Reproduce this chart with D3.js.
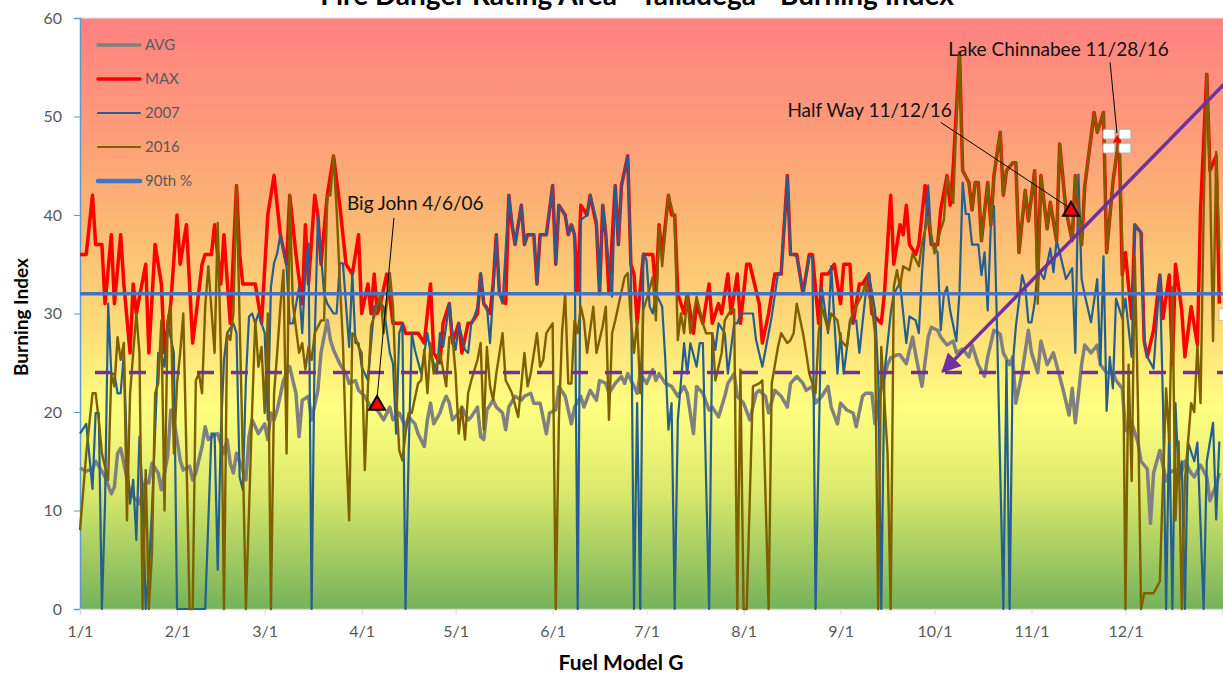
<!DOCTYPE html>
<html>
<head>
<meta charset="utf-8">
<script src="https://cdn.jsdelivr.net/npm/d3@7"></script>
<style>
  body { margin: 0; background: #fff; }
  svg { display: block; }
</style>
</head>
<body>
<svg id="chart"></svg>
<script>
// day of year (0 = Jan 1) and Burning Index value
var avgData = [[0,14.3],[2,14],[4,14.2],[5,15],[7,14],[8,13.4],[10,11.7],[11,12.4],[12,15.8],[13,16.3],[14,14.8],[16,11.7],[18,11.1],[19,10.7],[21,13.1],[22,12.8],[23,14.8],[25,13.8],[26,12.1],[28,15.5],[29,20.2],[30,19.2],[31,17.2],[32,15.1],[33,14.1],[35,14.5],[36,13.1],[37,13.8],[39,16.5],[40,18.5],[41,17.2],[43,17.7],[44,17.8],[46,15.8],[47,17.2],[48,14.8],[49,13.8],[50,15.8],[52,14.1],[53,13.1],[54,17.5],[55,19.2],[56,18.5],[57,17.8],[59,18.8],[60,17.2],[61,19.9],[62,19.2],[63,20.2],[65,23.2],[67,24.6],[68,23.2],[69,21.9],[70,17.5],[71,21.2],[73,21.6],[74,19.2],[76,22.2],[77,26],[79,29.3],[80,27.3],[81,26.3],[83,24.9],[85,23.9],[86,22.9],[88,23.2],[89,22.2],[91,21.6],[93,20.4],
  [95,20.2],[97,19.2],[99,20.5],[100,19.2],[102,19.9],[104,18.5],[105,19.5],[107,18.8],[108,17.8],[110,16.5],[111,19.2],[112,20.9],[113,18.8],[115,19.9],[116,20.9],[117,21.6],[118,20.9],[119,19.2],[121,19.9],[122,20.5],[124,19.2],[125,19.5],[127,20.5],[128,17.5],[129,17.2],[130,20.2],[132,21.2],[133,20.5],[135,19.9],[136,18.2],[137,20.5],[139,21.6],[141,21.2],[142,21.6],[144,21.9],[145,20.9],[147,20.9],[149,17.8],[150,19.9],[152,20.2],[153,22.6],[155,21.6],[157,18.8],[158,20.5],[160,21.6],[161,20.5],[163,22.2],[165,21.2],[166,23.2],[168,22.9],[169,21.9],[171,22.9],[173,23.6],[174,22.9],[175,23.9],[177,22.6],[178,21.9],[179,23.9],[181,22.9],[183,24.3],[184,23.2],[185,23.9],[187,22.9],[189,22.6],[191,21.6],[193,22.6],[194,21.9],
  [196,17.8],[197,22.6],[199,21.9],[201,20.2],[202,20.5],[204,19.5],[206,21.6],[207,22.9],[209,23.9],[210,21.6],[212,20.9],[214,19.2],[216,21.9],[217,22.2],[219,21.6],[220,19.9],[222,22.2],[224,21.6],[226,20.5],[227,22.9],[229,23.6],[231,22.9],[232,22.2],[234,22.6],[235,20.9],[237,21.6],[239,22.6],[240,20.5],[242,18.8],[243,20.9],[245,20.2],[247,19.9],[248,18.5],[250,21.6],[251,21.9],[253,21.9],[254,18.8],[256,22.5],[258,24.8],[259,25.5],[261,25.8],[262,25.8],[264,24.9],[266,27.6],[267,25.8],[269,22.6],[271,27.6],[272,28.6],[274,28.3],
  [275,27.6],[277,26.8],[279,27.2],[280,26],[282,26.4],[284,25.6],[285,26.8],[287,24.8],[289,23.6],[290,25.6],[292,28.3],[294,27.9],[295,26],[297,24.8],[298,25.6],[299,20.9],[301,24],[303,28.3],[304,26],[306,24],[307,27.2],[309,24.8],[311,26],[312,24.8],[314,22.4],[316,19.7],[317,22.4],[318,18.9],[320,24.8],[321,26.8],[323,26],[325,26.8],[326,24.8],[328,24],[330,24],[331,23.2],[333,22.4],[334,18.1],[336,18.9],[338,16.9],[339,15],[341,14.2],[342,8.7],[343,13.8],[345,16.1],[347,13],[348,13.8],[350,14.2],[351,13],[353,15],[355,13.8],[356,13.4],[358,14.6],[360,13.4],[361,11],[363,12.6],[364,13.8]];

var maxData = [[0,36],[2,36],[4,42],[5,37],[7,37],[8,31],[10,38],[11,31],[13,38],[14,33],[16,26],[17,33],[18,30],[21,35],[22,26],[24,37],[26,33],[27,26],[29,31],[31,40],[32,35],[34,39],[36,27],[39,35],[40,36],[42,36],[43,39],[45,33],[46,38],[48,29],[50,43],[51,36],[52,33],[54,33],[56,33],[58,29],[60,40],[62,44],[64,38],[66,35],[67,42],[69,36],[71,31],[72,39],[73,33],[75,42],[76,40],[77,35],[79,42],[81,46],[83,41],[85,35],[87,34],[89,38],[90,30],[92,33],[93,30],[94,34],[95,30],[96,31],
  [98,34],[100,29],[103,29],[104,28],[106,28],[108,28],[110,27],[112,33],[113,26],[115,25],[116,29],[118,31],[119,27],[121,29],[122,26],[124,29],[125,29],[127,30],[128,34],[129,31],[131,30],[132,33],[133,38],[134,32],[136,31],[137,42],[138,39],[139,37],[141,41],[142,37],[143,38],[145,38],[146,33],[147,38],[149,38],[151,43],[152,35],[153,41],[155,40],[156,38],[157,39],[158,38],[159,32],[160,41],[162,40],[163,42],[165,39],[166,32],[167,41],[168,38],[169,32],[171,43],[172,37],[173,43],[175,46],[176,35],[177,34],[178,29],[180,36],[181,36],[183,36],[184,32],[185,39],[186,36],[188,42],[189,40],[190,40],
  [191,32],[193,30],[194,32],[196,28],[197,31],[199,29],[201,33],[202,29],[204,31],[205,30],[207,34],[208,30],[210,34],[211,29],[213,35],[214,35],[217,31],[218,27],[220,30],[222,34],[224,34],[226,44],[227,36],[229,36],[231,32],[233,36],[234,36],[236,29],[237,34],[239,34],[241,35],[243,31],[244,35],[246,35],[247,29],[249,33],[250,33],[252,34],[253,30],[256,29],[257,32],[259,42],[260,35],[262,39],[263,38],[264,41],[265,37],[267,36],[268,37],[270,43],[272,37],[274,37],
  [275,40.5],[277,44],[278,41],[279,44.9],[281,56.5],[282,44.5],[284,43.3],[285,40.5],[286,43.3],[287,43.3],[288,37.4],[290,43.3],[291,39],[292,44],[294,48.4],[295,42],[296,44.5],[298,45.3],[299,45.3],[300,36.2],[302,42.5],[303,39.4],[305,44.5],[306,33.5],[307,44],[309,38.6],[310,41.3],[312,37.4],[313,47.2],[315,40.5],[317,37.4],[318,44],[320,37],[321,42.9],[324,50.4],[325,48.4],[327,50.4],[328,36.2],[330,43.3],[332,48],[333,33.9],[334,36.2],[336,29.5],[337,39],[339,38.2],[340,27.2],[341,25.6],[343,28.3],[345,33.9],[346,29.5],[348,33.9],[349,24.8],[350,35],[352,30.3],[353,25.6],[355,30.7],[357,26.8],[358,40.5],[360,54.3],[361,44.5],[363,46],[364,31]];

var y2007Data = [[0,17.8],[2,18.8],[4,12.2],[5,19.9],[6,19.9],[7,0],[8,10.7],[9,31],[10,23.9],[11,23.9],[12,21.9],[13,21.9],[14,26],[15,15.8],[16,10.7],[17,13.1],[18,7],[19,17.5],[20,11.7],[21,0],[22,4],[23,10.1],[25,26],[26,26],[27,24.6],[28,29],[30,26],[31,0],[35,0],[39,0],[40,0],[42,17.8],[43,17.8],[44,4],[45,17.8],[46,25.3],[47,28],[49,29],[50,28],[51,13.4],[52,12.1],[53,23.2],[54,29.7],[55,30],[56,29],[57,30],[59,28],[60,19.2],[61,32.7],[62,35.1],[63,36.1],[64,38],[66,34.8],[67,29],[68,29],[70,32.7],[71,28],[72,34.4],[73,37.1],[74,0],[75,27.6],[76,39.8],[78,32],[79,31],[81,30],[82,30],[83,35.1],[84,35.1],[86,26.6],[87,34.1],[88,27],[89,27],[90,24.6],[92,23.2],
  [94,30.7],[96,31],[97,30.7],[99,26],[100,24.9],[101,17.8],[102,28],[103,29],[104,0],[105,15.8],[106,28],[107,26.3],[109,23.9],[110,26],[111,28],[112,26],[114,23.9],[115,28],[116,26.6],[118,31],[119,28],[120,26.3],[121,29],[123,26.3],[124,26],[125,29],[126,29.7],[127,30.7],[128,34.1],[129,31],[130,30.7],[131,27],[132,32],[133,38],[134,32],[135,31],[137,42],[138,39.5],[139,37],[141,41],[142,37],[143,38],[145,38],[146,33],[147,38],[149,38],[151,43],[152,35],[153,41],[155,40],[156,38],[157,39],[158,38],[159,0],[160,39.5],[162,40],[163,42],[165,39.5],[166,32],[167,41],[168,38],[170,31.7],[171,43],[172,37],[173,43],[175,46],[176,34.8],[177,0],[178,20.9],[179,0],[180,36.1],[181,35.4],[182,30.7],[183,30],[184,32],[186,30.7],[187,25.3],[188,18.2],[189,20.9],
  [190,0],[191,19.2],[193,27],[194,23.9],[195,27],[197,24.6],[198,27],[199,27],[201,0],[202,28],[203,26.3],[204,29],[206,28],[207,23.9],[209,29],[210,29],[211,30],[213,30],[215,30],[216,27.3],[218,24.6],[219,26.3],[221,29.7],[223,34.1],[224,34.1],[226,43.9],[227,36.1],[229,35.8],[231,32],[233,35.8],[234,35.8],[235,0],[237,32.7],[239,28],[240,34.8],[242,23.9],[243,28],[244,23.9],[246,29],[248,29.3],[249,26],[251,32],[252,34.1],[254,30.3],[255,23.9],[256,0],[257,23.9],[259,30],[260,32],[262,33.1],[264,27],[265,29.7],[267,29.3],[268,28],[269,34.1],[271,43],[272,37.1],
  [274,36.2],[275,28.3],[276,31.9],[277,32.7],[278,30.3],[280,27.2],[281,32.3],[282,43.3],[283,40.1],[284,40.1],[285,37],[287,37],[288,33.9],[289,36.2],[290,30.3],[291,39],[292,40.9],[293,28.3],[295,0],[296,25.2],[297,0],[298,24.8],[299,28.7],[301,33.9],[302,32.7],[303,29.1],[304,29.1],[305,31.1],[306,34.6],[308,33.5],[310,36.6],[311,34.2],[312,37.4],[313,36.2],[315,33.5],[317,34.6],[318,26],[319,44.1],[320,33.5],[321,31.9],[323,29.1],[325,33.5],[326,24.8],[327,35.8],[328,20.1],[329,25.6],[330,22.4],[331,31.5],[333,29.5],[334,31.5],[336,25.6],[337,39],[339,38.2],[340,27.2],[341,25.6],[343,24.4],[345,33.9],[346,20.9],[347,0],[348,18.9],[349,0],[350,20.9],[351,13],[352,15],[353,0],[354,16.9],[356,15],[357,16.9],[359,0],[360,15],[362,18.9],[363,9.1],[364,17]];

var y2016Data = [[0,8],[2,15.8],[4,21.9],[5,21.9],[6,19.2],[7,15.8],[9,13.1],[10,23.9],[11,22.6],[12,27.6],[13,25.3],[14,27],[15,9],[16,21.9],[17,26],[18,30],[19,26],[20,0],[21,14.1],[22,0],[23,5.7],[24,21.9],[25,22.9],[26,29.3],[27,10],[28,29.3],[29,30.7],[30,15.8],[31,22.9],[32,26],[33,30],[34,15.8],[35,0],[36,0],[37,23.2],[38,23.9],[39,21.9],[40,30.7],[41,34.8],[43,26],[44,39.2],[45,26],[46,0],[47,28],[48,27.3],[49,30],[50,43],[51,29.3],[52,15.8],[53,0],[54,10],[55,20.2],[56,29.3],[57,24.6],[58,26.6],[59,19.9],[60,30],[61,0],[62,21.9],[63,26],[64,30.7],[65,34.4],[66,15.8],[67,42],[68,31],[70,26],[71,27],[72,24.3],[73,26.6],[74,25.3],[75,28],[77,29.3],[78,29.3],[79,42],[80,42],[81,46],[82,40.5],[83,33.4],[84,27],[85,16.5],[86,9],[87,28],[88,27.6],[89,26.6],[90,26],[91,14.1],[92,22.6],[93,28.7],[94,29.7],
  [96,32],[97,28],[99,34.1],[100,30.7],[101,21.9],[102,16.1],[103,15.1],[104,17.8],[105,19.9],[106,19.9],[108,22.9],[109,23.2],[110,26.3],[111,21.9],[112,27],[113,23.9],[115,26],[117,22.6],[118,27.6],[119,27.6],[120,23.9],[121,17.8],[122,20.5],[123,17.2],[124,21.9],[125,23.2],[127,25.3],[128,27],[129,18.2],[130,26.6],[131,22.6],[132,21.2],[133,23.9],[135,28],[136,23.2],[137,22.6],[138,21.9],[140,19.5],[142,26],[143,22.6],[144,23.9],[146,28],[147,24.6],[148,25.3],[149,28],[151,29],[152,0],[153,19.2],[154,28],[155,32],[156,22.9],[157,22.9],[158,29.3],[159,28],[160,30.7],[161,29.3],[162,26],[164,30.7],[165,26],[167,28.7],[168,30.7],[169,19.2],[170,28],[171,29.3],[174,33.7],[175,34.1],[176,29.3],[177,26],[178,29.3],[179,21.9],[180,30.4],[181,31.4],[183,33.7],[184,29.3],[185,38.8],[186,34.8],[188,42],[189,40.8],[190,39.5],
  [191,27.3],[192,30],[193,28],[194,31.7],[195,28],[197,31.7],[199,29],[200,28],[202,28],[203,23.2],[205,26],[206,29.3],[208,30.4],[209,30.4],[210,0],[211,24.3],[212,0],[213,0],[215,22.6],[217,22.9],[218,23.2],[220,0],[221,22.9],[223,26.6],[224,28],[226,27],[227,27.3],[228,28],[229,31],[231,28],[232,26],[233,23.9],[235,21.9],[236,28],[237,30.7],[239,28.3],[240,30],[242,29.3],[243,27.3],[245,26.6],[246,29.3],[248,30.7],[250,32],[251,33.1],[253,30.7],[254,28],[255,0],[256,26.6],[258,15.8],[259,0],[260,32.7],[261,34.4],[262,32.7],[263,34.8],[265,34.4],[266,36.1],[268,34.8],[269,37.1],[271,39.8],[273,36.1],[274,37.5],
  [276,39.5],[277,43.9],[279,41.2],[280,49.6],[281,56.5],[282,44.5],[284,43.3],[285,40.5],[286,43.3],[287,43.3],[288,37.4],[290,43.3],[291,39],[292,44],[294,48.4],[295,42],[296,44.5],[298,45.3],[299,45.3],[300,36.2],[302,42.5],[303,39.4],[305,44.5],[306,31],[307,44],[309,38.6],[310,41.3],[312,37.4],[313,47.2],[315,40.5],[317,37.4],[318,44],[320,37],[321,42.9],[324,50.4],[325,48.4],[327,50.4],[328,36.2],[330,43.3],[332,48],[333,36.6],[334,0],[335,24.8],[336,13],[337,35.8],[338,20.9],[339,0],[340,1.6],[341,1.6],[343,1.6],[345,2.8],[346,13],[347,22.4],[348,17],[349,32.7],[350,9],[351,17],[352,0],[353,13],[355,20.9],[356,20],[357,26.8],[358,20.9],[359,40.5],[360,54.3],[361,44.5],[362,27.2],[363,46.4],[364,36.6]];

var pct90 = 32, refLine = 24;

var tickDays = [0,31,59,90,120,151,181,212,243,273,304,334];
var tickLabels = ["1/1","2/1","3/1","4/1","5/1","6/1","7/1","8/1","9/1","10/1","11/1","12/1"];
var yTicks = [0,10,20,30,40,50,60];

var legendNames = ["AVG","MAX","2007","2016","90th %"];

var notes = [
  {text:"Big John 4/6/06", at:[85.3,40.5], from:[100.3,39.7], to:[94.9,21.4], mark:[94.9,20.7]},
  {text:"Half Way 11/12/16", at:[226,50], from:[275,49.4], to:[315.3,40.9], mark:[316.6,40.4]},
  {text:"Lake Chinnabee 11/28/16", at:[277.4,56.1], from:[329.1,55.5], to:[331.3,48.3], mark:null}
];

var svgWidth = 1223, svgHeight = 674;
var plotLeft = 80, plotTop = 18, plotBottom = 609;
var font = "Lato, 'Open Sans', sans-serif";

var chart = d3.select('#chart')
  .attr('width', svgWidth)
  .attr('height', svgHeight)
  .style('font-family', font);

var xScale = d3.scaleLinear().domain([0,365]).range([plotLeft, plotLeft + 365*3.13]);
var yScale = d3.scaleLinear().domain([0,60]).range([plotBottom, plotTop]);

// background gradient
var defs = chart.append('defs');
var grad = defs.append('linearGradient').attr('id','bg')
  .attr('x1',0).attr('y1',0).attr('x2',0).attr('y2',1);
[[0,'#ff8181'],[0.18,'#fd9a7a'],[0.35,'#fbb973'],[0.52,'#fedb77'],[0.66,'#ffff80'],[0.80,'#dbe96c'],[1,'#75b25a']]
  .forEach(function(s){ grad.append('stop').attr('offset',s[0]).attr('stop-color',s[1]); });

defs.append('marker').attr('id','arrow')
  .attr('viewBox','0 0 10 10').attr('refX',9).attr('refY',5)
  .attr('markerWidth',5.5).attr('markerHeight',5.5).attr('orient','auto')
  .append('path').attr('d','M0,0 L10,5 L0,10 z').attr('fill','#7030a0');

chart.append('rect')
  .attr('x', plotLeft).attr('y', plotTop)
  .attr('width', svgWidth - plotLeft).attr('height', plotBottom - plotTop)
  .attr('fill','url(#bg)');
chart.append('line')
  .attr('x1', plotLeft).attr('x2', svgWidth).attr('y1', plotTop).attr('y2', plotTop)
  .attr('stroke','#e6e6e6').attr('stroke-width',1);

// title (cut off at top like the source)
chart.append('text')
  .attr('x', 637).attr('y', 5)
  .attr('text-anchor','middle')
  .style('font-weight','bold').style('font-size','28px')
  .text('Fire Danger Rating Area - Talladega - Burning Index');

// axes
var yAxis = chart.append('g')
  .attr('id','y-axis')
  .attr('transform','translate('+plotLeft+',0)')
  .call(d3.axisLeft(yScale).tickValues(yTicks).tickSize(6).tickPadding(12));
yAxis.select('.domain').attr('stroke','#5b9bd5').attr('stroke-width',1.5);
yAxis.selectAll('.tick line').attr('stroke','#5b9bd5');
yAxis.selectAll('text').attr('fill','#595959').style('font-size','16px').style('font-family', font);

var xAxis = chart.append('g')
  .attr('id','x-axis')
  .attr('transform','translate(0,'+plotBottom+')')
  .call(d3.axisBottom(xScale).tickValues(tickDays)
    .tickFormat(function(d,i){ return tickLabels[i]; }).tickSize(6).tickPadding(11));
xAxis.select('.domain').attr('stroke','#d9d9d9').attr('stroke-width',1.5);
xAxis.selectAll('.tick line').attr('stroke','#d9d9d9');
xAxis.selectAll('text').attr('fill','#595959').style('font-size','16px').style('font-family', font);

chart.append('text')
  .attr('x', 621).attr('y', 670)
  .attr('text-anchor','middle')
  .style('font-weight','bold').style('font-size','21px')
  .text('Fuel Model G');

chart.append('text')
  .attr('transform','translate(28,317) rotate(-90)')
  .attr('text-anchor','middle')
  .style('font-weight','bold').style('font-size','19px')
  .text('Burning Index');

// series
var line = d3.line()
  .x(function(d){ return xScale(d[0]); })
  .y(function(d){ return yScale(d[1]); });

var series = [
  {data: avgData, color:'#808080', width:3.5},
  {data: maxData, color:'#ff0000', width:3.5},
  {data: y2007Data, color:'#255e91', width:2.2},
  {data: y2016Data, color:'#7f6000', width:2.4}
];

var lines = chart.append('g').attr('id','lines');
series.forEach(function(s){
  lines.append('path')
    .datum(s.data)
    .attr('d', line)
    .attr('fill','none')
    .attr('stroke', s.color)
    .attr('stroke-width', s.width)
    .attr('stroke-linejoin','round');
});

lines.append('line')
  .attr('x1', plotLeft).attr('x2', svgWidth)
  .attr('y1', yScale(pct90)).attr('y2', yScale(pct90))
  .attr('stroke','#4472c4').attr('stroke-width',3.5);

lines.append('line')
  .attr('x1', plotLeft).attr('x2', svgWidth)
  .attr('y1', yScale(refLine)).attr('y2', yScale(refLine))
  .attr('stroke','#7030a0').attr('stroke-width',3.5)
  .attr('stroke-dasharray','17,17').attr('stroke-dashoffset',-15);

// legend
var legendColors = ['#808080','#ff0000','#255e91','#7f6000','#4472c4'];
var legendWidths = [3.5,3.5,2.2,2.2,4.5];
var legend = chart.append('g').attr('id','legend');
legendNames.forEach(function(n,i){
  var ly = 45 + i*34;
  legend.append('line')
    .attr('x1', 98).attr('x2', 140).attr('y1', ly).attr('y2', ly)
    .attr('stroke', legendColors[i]).attr('stroke-width', legendWidths[i])
    .attr('stroke-linecap','round');
  legend.append('text')
    .attr('x', 145).attr('y', ly + 5)
    .attr('fill','#595959').style('font-size','15px')
    .text(n);
});

// annotations
var ann = chart.append('g').attr('id','notes');
notes.forEach(function(n){
  ann.append('line')
    .attr('x1', xScale(n.from[0])).attr('y1', yScale(n.from[1]))
    .attr('x2', xScale(n.to[0])).attr('y2', yScale(n.to[1]))
    .attr('stroke','#000').attr('stroke-width',1);
  ann.append('text')
    .attr('x', xScale(n.at[0])).attr('y', yScale(n.at[1]))
    .attr('fill','#111').style('font-size','19px')
    .text(n.text);
  if (n.mark) {
    ann.append('path')
      .attr('transform','translate('+xScale(n.mark[0])+','+yScale(n.mark[1])+')')
      .attr('d', d3.symbol().type(d3.symbolTriangle).size(110))
      .attr('fill','#ff0000').attr('stroke','#000').attr('stroke-width',2);
  }
});

// selection handles round the Lake Chinnabee marker
var hx = xScale(331.3), hy = yScale(47.6);
[[-14,-11],[2,-11],[-14,3],[2,3]].forEach(function(o){
  ann.append('rect')
    .attr('x', hx + o[0]).attr('y', hy + o[1])
    .attr('width', 12).attr('height', 10).attr('rx', 2)
    .attr('fill','#fff').attr('stroke','#aaa').attr('stroke-width',1);
});
ann.append('path')
  .attr('transform','translate('+hx+','+hy+')')
  .attr('d', d3.symbol().type(d3.symbolTriangle).size(30))
  .attr('fill','#ff0000');
ann.append('rect')
  .attr('x', svgWidth - 4).attr('y', yScale(30.5)).attr('width', 8).attr('height', 12)
  .attr('fill','#fff').attr('stroke','#bbb');

// purple arrow
ann.append('line')
  .attr('x1', xScale(366.5)).attr('y1', yScale(53.6))
  .attr('x2', xScale(275.6)).attr('y2', yScale(24.1))
  .attr('stroke','#7030a0').attr('stroke-width',3.5)
  .attr('marker-end','url(#arrow)');
</script>
</body>
</html>
